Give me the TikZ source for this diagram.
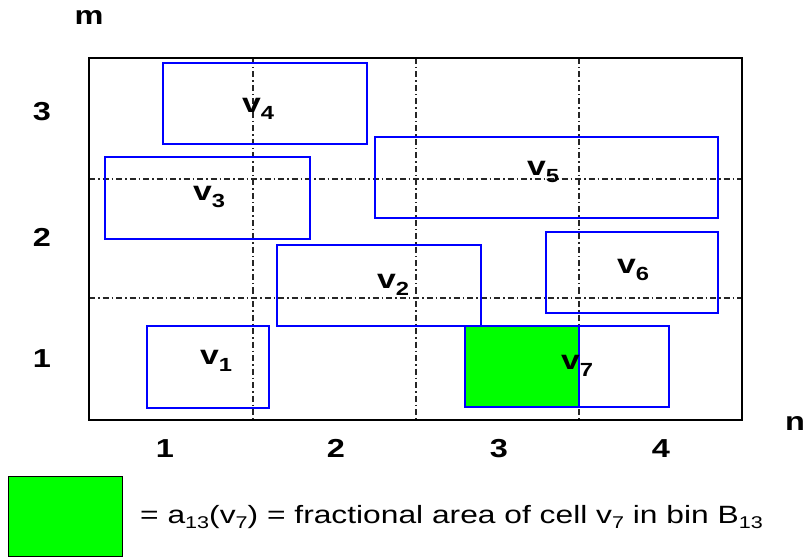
\documentclass[tikz,border=0pt]{standalone}
\usepackage{fontspec}
\setmainfont{Liberation Sans}
\newfontfamily\widefont[FakeStretch=1.25]{Liberation Sans}
\newfontfamily\legfont[FakeStretch=1.27]{Liberation Sans}
\begin{document}
\begin{tikzpicture}[x=1pt,y=-1pt,
  cell/.style={draw=blue,line width=1.6pt,inner sep=0pt,outer sep=0pt},
  grid/.style={draw=black!85,line width=1.1pt,dash pattern=on 6pt off 3pt on 1.5pt off 3pt},
  lab/.style={font=\widefont\fontsize{27}{30}\selectfont\bfseries,inner sep=0pt,anchor=base west},
  ax/.style={font=\widefont\fontsize{26}{30}\selectfont\bfseries,inner sep=0pt,anchor=base}]
\newcommand{\sbx}[1]{\raisebox{-7pt}{\fontsize{19}{19}\selectfont #1}}
\newcommand{\sbl}[1]{\raisebox{-5pt}{\fontsize{17}{17}\selectfont #1}}
\useasboundingbox (0,0) rectangle (807,559);
% grid lines
\coordinate (gx1t) at (253,58); \coordinate (gx1b) at (253,420);
\coordinate (gx2t) at (416,58); \coordinate (gx2b) at (416,420);
\coordinate (gx3t) at (579,58); \coordinate (gx3b) at (579,420);
\coordinate (gy1l) at (89,179); \coordinate (gy1r) at (742,179);
\coordinate (gy2l) at (89,298); \coordinate (gy2r) at (742,298);
\draw[grid] (gx1t) -- (gx1b);
\draw[grid] (gx2t) -- (gx2b);
\draw[grid] (gx3t) -- (gx3b);
\draw[grid] (gy1l) -- (gy1r);
\draw[grid] (gy2l) -- (gy2r);
% frame
\node[draw=black,line width=2.8pt,inner sep=0pt,minimum width=653pt,minimum height=362pt] (frame) at (415.5,239) {};
% cells
\node[cell,minimum width=204pt,minimum height=81pt] (c4) at (265,103.5) {};
\node[cell,minimum width=205pt,minimum height=82pt] (c3) at (207.5,198) {};
\node[cell,minimum width=343pt,minimum height=81pt] (c5) at (546.5,177.5) {};
\node[cell,minimum width=204pt,minimum height=81pt] (c2) at (379,285.5) {};
\node[cell,minimum width=172pt,minimum height=81pt] (c6) at (632,272.5) {};
\node[cell,minimum width=122pt,minimum height=82pt] (c1) at (208,367) {};
\node[cell,minimum width=204pt,minimum height=81pt] (c7) at (567,366.5) {};
\node[cell,fill={rgb,255:red,0;green,255;blue,0},minimum width=114pt,minimum height=81pt] (green) at (522,366.5) {};
% labels
\node[lab] (l4) at (242,113) {v\sbx{4}};
\node[lab] (l3) at (193,201) {v\sbx{3}};
\node[lab] (l5) at (527,176) {v\sbx{5}};
\node[lab] (l2) at (377,288) {v\sbx{2}};
\node[lab] (l6) at (617,273) {v\sbx{6}};
\node[lab] (l1) at (200,364) {v\sbx{1}};
\node[lab] (l7) at (561,369) {v\sbx{7}};
% axes
\node[ax] (m) at (89,25) {m};
\node[ax] (n) at (795,430) {n};
\node[ax] (y3) at (42,121) {3};
\node[ax] (y2) at (42,247) {2};
\node[ax] (y1) at (42,367) {1};
\node[ax] (x1) at (165,457) {1};
\node[ax] (x2) at (336,457) {2};
\node[ax] (x3) at (499,457) {3};
\node[ax] (x4) at (661,457) {4};
% legend
\node[draw=black,line width=0.8pt,fill={rgb,255:red,0;green,255;blue,0},inner sep=0pt,minimum width=114pt,minimum height=80pt] (key) at (65,516) {};
\node[font=\legfont\fontsize{25}{28}\selectfont,inner sep=0pt,anchor=base west] (legend) at (140,523)
  {= a\sbl{13}(v\sbl{7}) = fractional area of cell v\sbl{7} in bin B\sbl{13}};
\end{tikzpicture}
\end{document}
